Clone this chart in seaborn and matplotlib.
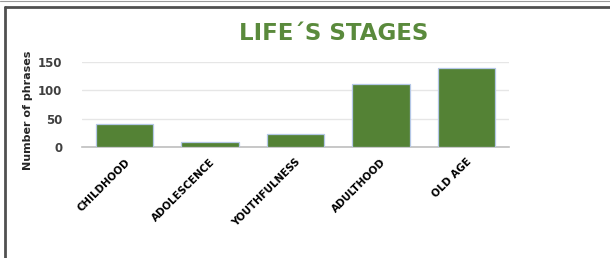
import matplotlib
matplotlib.use("Agg")
import matplotlib.pyplot as plt
from matplotlib.lines import Line2D
import seaborn as sns
import pandas as pd

stages = ["CHILDHOOD", "ADOLESCENCE", "YOUTHFULNESS", "ADULTHOOD", "OLD AGE"]
phrases = [41, 9, 23, 111, 139]
yticks = [0, 50, 100, 150]
title = "LIFE\u00b4S STAGES"
ylabel = "Number of phrases"

sns.set_theme(style="white")
plt.rcParams['font.family'] = ['DejaVu Sans']

W, H = 610, 258
fig = plt.figure(figsize=(W / 100, H / 100), dpi=100)
ax = fig.add_axes([82 / W, 1 - 147 / H, (509 - 82) / W, (147 - 62) / H])

df = pd.DataFrame({"stage": stages, "n": phrases})
sns.barplot(data=df, x="stage", y="n", ax=ax, color="#548235", saturation=1,
            width=0.67, edgecolor="#b4c7e7", linewidth=0.9, zorder=3)

ax.set_ylim(0, 150)
ax.set_xlim(-0.5, len(stages) - 0.5)
ax.set_yticks(yticks)
ax.yaxis.grid(True, color="#e6e6e6", linewidth=1.0, zorder=0)
ax.set_axisbelow(True)
for s in ["top", "right", "left"]:
    ax.spines[s].set_visible(False)
ax.spines["bottom"].set_color("#bfbfbf")
ax.spines["bottom"].set_linewidth(1.2)
ax.tick_params(axis="both", length=0)
ax.tick_params(axis="y", pad=14, labelsize=8.5, labelcolor="#404040")
ax.set_yticklabels([str(v) for v in yticks], fontweight="bold")
ax.set_xticks(range(len(stages)))
ax.set_xticklabels(stages, rotation=45, ha="right", rotation_mode="anchor",
                   fontsize=7.4, fontweight="bold", color="black")
ax.tick_params(axis="x", pad=7)
ax.set_xlabel("")
ax.set_ylabel("")

fig.text(28 / W, 1 - 110 / H, ylabel, rotation=90, ha="center", va="center",
         fontsize=8, fontweight="bold", color="#262626")
fig.text(334 / W, 1 - 34 / H, title, ha="center", va="center",
         fontsize=16.5, fontweight="bold", color="#5a8a3c")

# chart frame (partially visible)
fig.add_artist(Line2D([4.5 / W, 1.0], [1 - 6.5 / H, 1 - 6.5 / H],
                      transform=fig.transFigure, color="#505050", linewidth=2.0))
fig.add_artist(Line2D([4.5 / W, 4.5 / W], [0, 1 - 6.5 / H],
                      transform=fig.transFigure, color="#505050", linewidth=2.0))
fig.add_artist(Line2D([0, 1.0], [1 - 0.5 / H, 1 - 0.5 / H],
                      transform=fig.transFigure, color="#9a9a9a", linewidth=0.8))

fig.savefig("out.png", dpi=100, facecolor="white")
